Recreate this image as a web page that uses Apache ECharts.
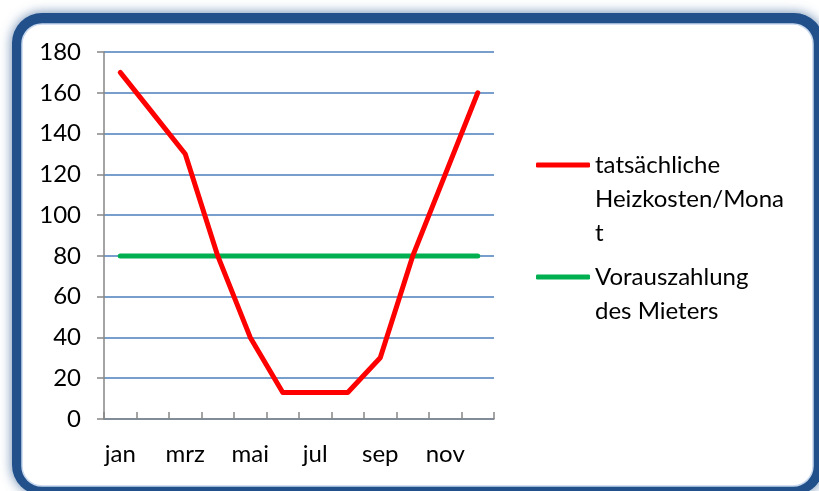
<!DOCTYPE html>
<html>
<head>
<meta charset="utf-8">
<script src="https://cdn.jsdelivr.net/npm/echarts@6/dist/echarts.min.js"></script>
<style>
  html, body { margin: 0; padding: 0; background: #fff; }
  #chart { width: 819px; height: 491px; }
</style>
</head>
<body>
<div id="chart"></div>
<script>
  // Monate (nur jeder zweite wird beschriftet)
  var months = ['jan', 'feb', 'mrz', 'apr', 'mai', 'jun', 'jul', 'aug', 'sep', 'okt', 'nov', 'dez'];
  var heizkosten = [170, 150, 130, 80, 40, 13, 13, 13, 30, 80, 120, 160];
  var vorauszahlung = [80, 80, 80, 80, 80, 80, 80, 80, 80, 80, 80, 80];
  var yTicks = [0, 20, 40, 60, 80, 100, 120, 140, 160, 180];

  var nameRed = 'tatsächliche Heizkosten/Monat';
  var nameGreen = 'Vorauszahlung des Mieters';
  // Zeilenumbruch wie im Original, Leerzeilen oben damit das Symbol an der ersten Zeile sitzt
  var legendText = {};
  legendText[nameRed] = '\n\ntatsächliche\nHeizkosten/Mona\nt';
  legendText[nameGreen] = '\nVorauszahlung\ndes Mieters';

  var font = 'Lato, "Open Sans", sans-serif';

  function legendFor(name, top) {
    return {
      data: [name],
      orient: 'vertical',
      left: 536,
      top: top,
      padding: 0,
      itemWidth: 54,
      itemHeight: 5,
      icon: 'roundRect',
      selectedMode: false,
      formatter: function (n) { return legendText[n]; },
      textStyle: { fontFamily: font, fontSize: 24, color: '#000', lineHeight: 34 }
    };
  }

  var chart = echarts.init(document.getElementById('chart'));
  chart.setOption({
    animation: false,
    graphic: [
      {
        type: 'rect', silent: true, z: -10,
        shape: { x: 12, y: 13, width: 812, height: 482, r: 30 },
        style: { fill: '#21508a', shadowBlur: 12, shadowColor: 'rgba(33,80,138,0.7)' }
      },
      {
        type: 'rect', silent: true, z: -9,
        shape: { x: 22, y: 24, width: 791, height: 462, r: 20 },
        style: { fill: '#fff', stroke: '#c8d8ee', lineWidth: 1.5 }
      }
    ],
    grid: { left: 104, right: 325, top: 52, bottom: 72 },
    legend: [
      legendFor(nameRed, 165 - 17 * 5),
      legendFor(nameGreen, 277 - 17 * 3)
    ],
    xAxis: {
      type: 'category',
      data: months,
      boundaryGap: true,
      axisLine: { lineStyle: { color: '#868686', width: 1.5 } },
      axisTick: { show: true, inside: true, length: 7, interval: 0, lineStyle: { color: '#868686', width: 1.5 } },
      axisLabel: { interval: 1, margin: 23, fontFamily: font, fontSize: 24, color: '#000' },
      splitLine: { show: false }
    },
    yAxis: {
      type: 'value',
      min: yTicks[0],
      max: yTicks[yTicks.length - 1],
      interval: 20,
      axisLine: { show: true, lineStyle: { color: '#868686', width: 1.5 } },
      axisTick: { show: true, length: 7, lineStyle: { color: '#868686', width: 1.5 } },
      axisLabel: { margin: 23, fontFamily: font, fontSize: 24, color: '#000' },
      splitLine: { lineStyle: { color: '#4a7ebb', width: 1.6 } }
    },
    series: [
      {
        name: nameRed, type: 'line', data: heizkosten,
        showSymbol: false, symbol: 'none',
        lineStyle: { color: '#ff0000', width: 5, cap: 'round', join: 'round' },
        itemStyle: { color: '#ff0000' }, z: 3
      },
      {
        name: nameGreen, type: 'line', data: vorauszahlung,
        showSymbol: false, symbol: 'none',
        lineStyle: { color: '#00b050', width: 5, cap: 'round' },
        itemStyle: { color: '#00b050' }, z: 2
      }
    ]
  });
</script>
</body>
</html>
